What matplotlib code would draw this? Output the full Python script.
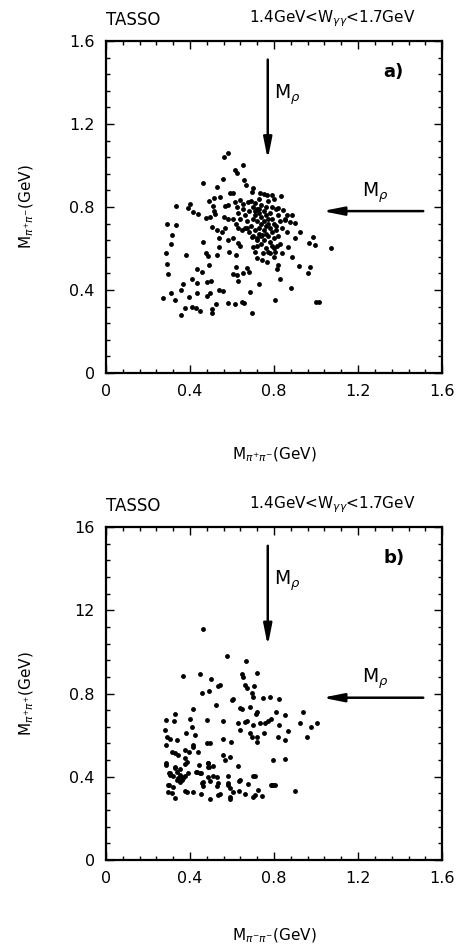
import matplotlib
matplotlib.use("Agg")
import matplotlib.pyplot as plt
from matplotlib.ticker import MultipleLocator

# panel a: M(pi+ pi-) vs M(pi+ pi-), GeV
a_x = [0.583, 0.562, 0.614, 0.622, 0.651, 0.460, 0.556, 0.527, 0.657, 0.665,
       0.702, 0.694, 0.590, 0.606, 0.733, 0.752, 0.765, 0.789, 0.833, 0.543,
       0.514, 0.490, 0.333, 0.400, 0.392, 0.416, 0.440, 0.508, 0.514, 0.519,
       0.567, 0.583, 0.614, 0.622, 0.638, 0.654, 0.678, 0.821, 0.841, 0.860,
       0.884, 0.475, 0.495, 0.562, 0.583, 0.606, 0.289, 0.333, 0.503, 0.527,
       0.551, 0.567, 0.630, 0.646, 0.670, 0.900, 0.876, 0.852, 0.924, 0.313,
       0.308, 0.463, 0.538, 0.583, 0.606, 0.694, 0.717, 0.741, 0.987, 0.967,
       0.995, 0.286, 0.379, 0.476, 0.484, 0.538, 0.527, 0.587, 0.619, 0.630,
       0.638, 0.702, 0.710, 0.749, 0.773, 0.813, 0.805, 0.800, 0.837, 0.865,
       0.884, 0.900, 0.921, 0.971, 0.963, 0.289, 0.294, 0.435, 0.456, 0.490,
       0.619, 0.606, 0.625, 0.654, 0.670, 0.683, 0.717, 0.741, 0.765, 0.821,
       0.816, 0.829, 0.408, 0.432, 0.483, 0.498, 0.365, 0.356, 0.630, 0.879,
       0.727, 0.540, 0.559, 0.686, 0.310, 0.329, 0.397, 0.432, 0.273, 0.483,
       0.495, 0.805, 1.000, 1.013, 0.376, 0.408, 0.427, 0.448, 0.505, 0.503,
       0.522, 0.579, 0.614, 0.646, 0.657, 0.357, 0.697, 1.070,
       0.68, 0.70, 0.71, 0.72, 0.73, 0.74, 0.75, 0.76, 0.77, 0.78,
       0.72, 0.74, 0.76, 0.78, 0.80, 0.79, 0.77, 0.75, 0.78, 0.80,
       0.81, 0.70, 0.69, 0.71, 0.73, 0.75, 0.66, 0.67, 0.65, 0.69,
       0.71, 0.74, 0.76, 0.79, 0.82, 0.83, 0.84, 0.82, 0.79, 0.76,
       0.74, 0.72, 0.70, 0.68, 0.66, 0.64, 0.63, 0.62, 0.73, 0.77,
       0.80, 0.81, 0.85, 0.86, 0.83, 0.78, 0.80, 0.73, 0.77, 0.75,
       0.79, 0.71, 0.73, 0.81, 0.76, 0.74, 0.72]
a_y = [1.059, 1.043, 0.978, 0.965, 1.002, 0.917, 0.933, 0.898, 0.930, 0.906,
       0.890, 0.874, 0.866, 0.869, 0.869, 0.863, 0.858, 0.858, 0.853, 0.847,
       0.842, 0.831, 0.806, 0.814, 0.794, 0.778, 0.765, 0.805, 0.782, 0.766,
       0.805, 0.810, 0.826, 0.798, 0.834, 0.814, 0.826, 0.794, 0.786, 0.761,
       0.761, 0.745, 0.753, 0.750, 0.741, 0.744, 0.718, 0.713, 0.702, 0.689,
       0.681, 0.697, 0.697, 0.689, 0.697, 0.721, 0.729, 0.737, 0.681, 0.665,
       0.620, 0.633, 0.649, 0.641, 0.649, 0.657, 0.649, 0.665, 0.657, 0.625,
       0.617, 0.577, 0.569, 0.577, 0.564, 0.609, 0.569, 0.585, 0.569, 0.625,
       0.612, 0.609, 0.585, 0.577, 0.585, 0.612, 0.585, 0.561, 0.577, 0.609,
       0.561, 0.649, 0.516, 0.512, 0.480, 0.525, 0.477, 0.501, 0.488, 0.520,
       0.512, 0.477, 0.472, 0.480, 0.504, 0.488, 0.553, 0.545, 0.537, 0.520,
       0.500, 0.451, 0.453, 0.435, 0.440, 0.445, 0.429, 0.400, 0.445, 0.408,
       0.429, 0.400, 0.397, 0.392, 0.384, 0.352, 0.368, 0.384, 0.360, 0.371,
       0.384, 0.352, 0.344, 0.344, 0.312, 0.320, 0.312, 0.300, 0.307, 0.291,
       0.333, 0.339, 0.333, 0.344, 0.336, 0.280, 0.288, 0.600,
       0.78, 0.80, 0.76, 0.79, 0.77, 0.75, 0.78, 0.76, 0.74, 0.77,
       0.73, 0.72, 0.71, 0.70, 0.72, 0.68, 0.66, 0.64, 0.63, 0.65,
       0.69, 0.74, 0.71, 0.69, 0.67, 0.69, 0.76, 0.73, 0.79, 0.83,
       0.82, 0.81, 0.80, 0.80, 0.76, 0.73, 0.70, 0.66, 0.61, 0.60,
       0.62, 0.64, 0.66, 0.68, 0.70, 0.74, 0.77, 0.72, 0.84, 0.83,
       0.84, 0.79, 0.74, 0.68, 0.62, 0.58, 0.60, 0.70, 0.72, 0.73,
       0.74, 0.78, 0.79, 0.71, 0.67, 0.66, 0.61]

# panel b: M(pi+ pi+) vs M(pi- pi-), GeV
b_x = [0.463, 0.575, 0.665, 0.368, 0.448, 0.500, 0.646, 0.654, 0.717, 0.543,
       0.535, 0.662, 0.670, 0.705, 0.456, 0.490, 0.694, 0.698, 0.598, 0.606,
       0.749, 0.781, 0.825, 0.522, 0.638, 0.646, 0.686, 0.717, 0.714, 0.413,
       0.329, 0.808, 0.852, 0.937, 0.559, 0.483, 0.630, 0.662, 0.673, 0.702,
       0.733, 0.757, 0.773, 0.784, 0.825, 0.924, 0.975, 1.006, 0.286, 0.324,
       0.400, 0.408, 0.281, 0.381, 0.424, 0.479, 0.495, 0.559, 0.595, 0.638,
       0.686, 0.694, 0.717, 0.721, 0.754, 0.821, 0.868, 0.852, 0.956, 0.289,
       0.305, 0.337, 0.286, 0.313, 0.329, 0.344, 0.376, 0.397, 0.416, 0.413,
       0.437, 0.376, 0.384, 0.286, 0.305, 0.321, 0.329, 0.352, 0.344, 0.360,
       0.432, 0.448, 0.484, 0.487, 0.511, 0.559, 0.567, 0.590, 0.630, 0.794,
       0.852, 0.463, 0.487, 0.535, 0.583, 0.635, 0.702, 0.784, 0.797, 0.302,
       0.286, 0.298, 0.305, 0.329, 0.337, 0.352, 0.360, 0.376, 0.376, 0.392,
       0.429, 0.451, 0.443, 0.487, 0.490, 0.511, 0.579, 0.638, 0.710, 0.297,
       0.321, 0.337, 0.352, 0.368, 0.456, 0.463, 0.495, 0.527, 0.583, 0.590,
       0.678, 0.789, 0.805, 0.900, 0.297, 0.313, 0.329, 0.376, 0.384, 0.413,
       0.451, 0.495, 0.535, 0.543, 0.590, 0.590, 0.633, 0.663, 0.702, 0.710,
       0.741, 0.725, 0.606, 0.527]
b_y = [1.109, 0.981, 0.957, 0.885, 0.894, 0.872, 0.894, 0.878, 0.897, 0.841,
       0.837, 0.841, 0.825, 0.837, 0.804, 0.814, 0.801, 0.782, 0.769, 0.772,
       0.777, 0.782, 0.772, 0.744, 0.729, 0.724, 0.737, 0.713, 0.702, 0.724,
       0.702, 0.713, 0.697, 0.713, 0.668, 0.673, 0.657, 0.665, 0.668, 0.649,
       0.660, 0.660, 0.670, 0.676, 0.649, 0.660, 0.638, 0.660, 0.673, 0.668,
       0.676, 0.641, 0.625, 0.609, 0.601, 0.564, 0.561, 0.580, 0.569, 0.625,
       0.609, 0.593, 0.593, 0.569, 0.609, 0.590, 0.622, 0.577, 0.590, 0.593,
       0.580, 0.577, 0.553, 0.521, 0.513, 0.505, 0.529, 0.521, 0.553, 0.545,
       0.521, 0.489, 0.473, 0.465, 0.417, 0.404, 0.449, 0.436, 0.393, 0.385,
       0.425, 0.420, 0.468, 0.446, 0.452, 0.505, 0.481, 0.497, 0.452, 0.481,
       0.484, 0.377, 0.401, 0.369, 0.372, 0.381, 0.404, 0.361, 0.361, 0.361,
       0.457, 0.417, 0.409, 0.441, 0.425, 0.409, 0.401, 0.462, 0.404, 0.417,
       0.421, 0.417, 0.457, 0.465, 0.449, 0.404, 0.404, 0.385, 0.404, 0.361,
       0.353, 0.385, 0.377, 0.393, 0.369, 0.356, 0.381, 0.356, 0.361, 0.345,
       0.365, 0.361, 0.361, 0.333, 0.329, 0.321, 0.297, 0.333, 0.325, 0.325,
       0.316, 0.292, 0.313, 0.316, 0.301, 0.292, 0.333, 0.316, 0.305, 0.313,
       0.308, 0.337, 0.329, 0.401]

m_rho = 0.77
tick_vals = [0, 0.4, 0.8, 1.2, 1.6]
xtick_labels = ["0", "0.4", "0.8", "1.2", "1.6"]
ytick_labels_a = ["0", "0.4", "0.8", "1.2", "1.6"]
ytick_labels_b = ["0", "0.4", "0.8", "12", "16"]

plt.rcParams['font.family'] = ['DejaVu Sans']
plt.rcParams['mathtext.fontset'] = 'dejavusans'

fig = plt.figure(figsize=(4.58, 9.5), dpi=100)

arrow_style = '-|>,head_length=0.9,head_width=0.18'


def draw_panel(ax, xs, ys, ylabels, tag, xlab, ylab, xlab_y):
    ax.plot(xs, ys, 'o', color='black', markersize=3.5, markeredgewidth=0)
    ax.set_xlim(0, 1.6)
    ax.set_ylim(0, 1.6)
    ax.set_xticks(tick_vals)
    ax.set_yticks(tick_vals)
    ax.set_xticklabels(xtick_labels)
    ax.set_yticklabels(ylabels)
    ax.xaxis.set_minor_locator(MultipleLocator(0.08))
    ax.yaxis.set_minor_locator(MultipleLocator(0.08))
    ax.tick_params(which='both', direction='in', top=True, right=True,
                   labelsize=11.5, width=1.0)
    ax.tick_params(which='major', length=6, pad=8)
    ax.tick_params(which='minor', length=3)
    for s in ax.spines.values():
        s.set_linewidth(1.6)

    # M_rho markers: vertical and horizontal arrows
    ax.annotate('', xy=(m_rho, 1.03), xytext=(m_rho, 1.51),
                arrowprops=dict(arrowstyle=arrow_style, color='black', lw=1.8,
                                mutation_scale=14, shrinkA=0, shrinkB=0))
    ax.annotate('', xy=(1.03, 0.78), xytext=(1.51, 0.78),
                arrowprops=dict(arrowstyle=arrow_style, color='black', lw=1.8,
                                mutation_scale=14, shrinkA=0, shrinkB=0))
    ax.text(0.80, 1.34, r'M$_{\rho}$', fontsize=13.5, ha='left', va='center')
    ax.text(1.22, 0.87, r'M$_{\rho}$', fontsize=13.5, ha='left', va='center')
    ax.text(1.37, 1.45, tag, fontsize=13, fontweight='bold', ha='center', va='center')

    ax.text(0.0, 1.035, 'TASSO', transform=ax.transAxes, fontsize=12,
            ha='left', va='bottom')
    ax.text(0.92, 1.035, r'1.4GeV<W$_{\gamma\gamma}$<1.7GeV', transform=ax.transAxes,
            fontsize=11, ha='right', va='bottom')
    ax.set_xlabel(xlab, fontsize=11, va='center')
    ax.xaxis.set_label_coords(0.5, xlab_y)
    ax.set_ylabel(ylab, fontsize=11, labelpad=24)


ax_a = fig.add_axes([0.2314, 0.6074, 0.734, 0.3495])
draw_panel(ax_a, a_x, a_y, ytick_labels_a, 'a)',
           r'M$_{\pi^{+}\pi^{-}}$(GeV)', r'M$_{\pi^{+}\pi^{-}}$(GeV)', -0.247)

ax_b = fig.add_axes([0.2314, 0.0947, 0.734, 0.3505])
draw_panel(ax_b, b_x, b_y, ytick_labels_b, 'b)',
           r'M$_{\pi^{-}\pi^{-}}$(GeV)', r'M$_{\pi^{+}\pi^{+}}$(GeV)', -0.228)

fig.savefig('out.png', dpi=100)
